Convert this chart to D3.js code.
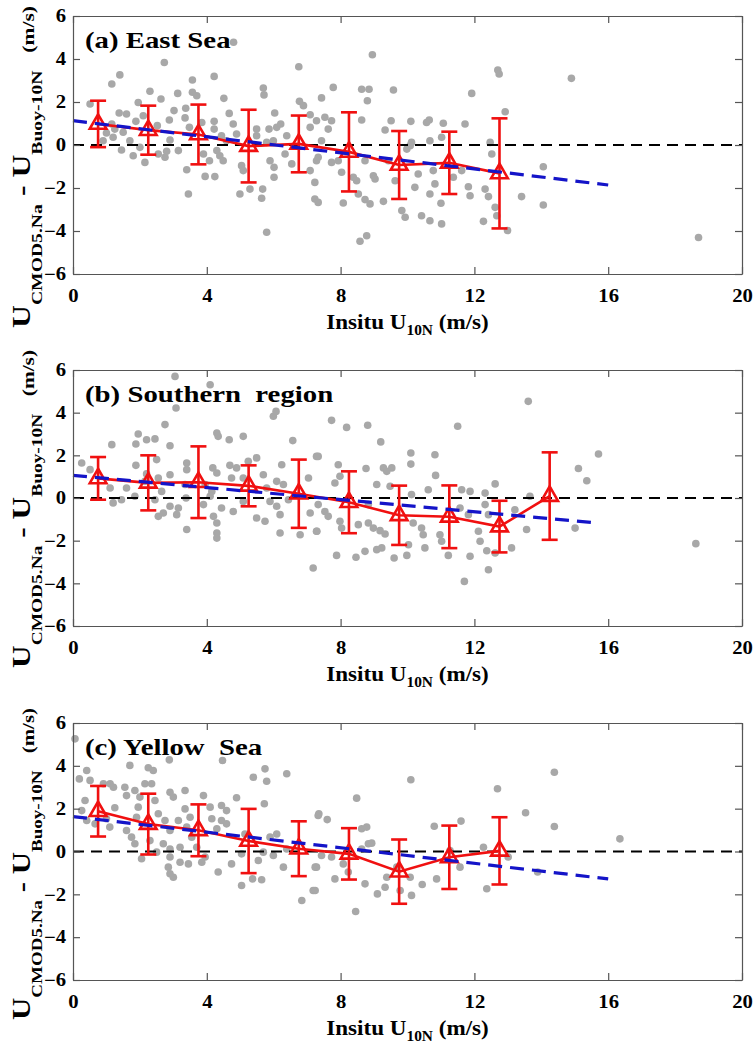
<!DOCTYPE html>
<html><head><meta charset="utf-8">
<script src="https://cdn.jsdelivr.net/npm/d3@7"></script>
<style>
body{margin:0;background:#fff;}
svg{display:block;}
text{font-family:"Liberation Serif","Times New Roman",serif;font-weight:bold;fill:#000;}
</style></head><body>
<svg id="chart" width="756" height="1051"></svg>
<script>
// ---------------- DATA ----------------
const xTicks = [0, 4, 8, 12, 16, 20];
const yTicks = [-6, -4, -2, 0, 2, 4, 6];
const panelTitles = ["(a) East Sea", "(b) Southern  region", "(c) Yellow  Sea"];

const binXA = [0.75, 2.25, 3.75, 5.25, 6.75, 8.25, 9.75, 11.25, 12.75];
const meanA = [0.98, 0.69, 0.49, -0.05, 0.05, -0.32, -0.93, -0.83, -1.32];
const stdA  = [1.08, 1.14, 1.39, 1.69, 1.32, 1.84, 1.58, 1.45, 2.56];

const binXB = [0.75, 2.25, 3.75, 5.25, 6.75, 8.25, 9.75, 11.25, 12.75, 14.25];
const meanB = [0.92, 0.71, 0.74, 0.57, 0.20, -0.20, -0.81, -0.88, -1.34, 0.09];
const stdB  = [1.00, 1.29, 1.68, 0.96, 1.60, 1.45, 1.39, 1.47, 1.21, 2.05];

const binXC = [0.75, 2.25, 3.75, 5.25, 6.75, 8.25, 9.75, 11.25, 12.75];
const meanC = [1.88, 1.28, 0.99, 0.49, 0.13, -0.11, -0.94, -0.27, 0.03];
const stdC  = [1.18, 1.42, 1.21, 1.50, 1.28, 1.20, 1.50, 1.48, 1.57];

// linear fit end points [x], [y]
const fitXA = [0, 16],   fitYA = [1.13, -1.86];
const fitXB = [0, 15.7], fitYB = [1.06, -1.17];
const fitXC = [0, 16],   fitYC = [1.63, -1.28];

// scatter (in-situ U10N, bias)
const scatterA = [
[4.8,4.78],[2.73,3.84],[1.4,3.26],[1.16,2.84],[4.22,3.19],[3.57,3.02],[6.75,3.64],[2.3,2.5],[3.13,2.4],[3.57,2.45],[3.7,2.29],[4.51,2.17],[5.69,2.65],[5.71,2.33],[6.77,2.03],[6.89,1.83],[0.51,1.91],[1.95,1.98],[2.63,2.14],[1.38,1.49],[1.6,1.44],[3.02,1.6],[3.37,1.71],[4.67,1.47],[6.03,1.49],[7.09,1.41],[1.16,0.98],[1.25,0.74],[1.5,0.59],[1.0,0.56],[1.88,1.1],[2.1,1.36],[2.88,1.16],[2.52,0.9],[2.9,0.23],[3.35,1.26],[3.48,0.82],[3.85,1.05],[4.22,1.1],[4.22,0.74],[4.79,0.98],[4.44,0.43],[4.59,0.2],[4.89,0.51],[5.49,0.74],[5.86,0.74],[6.09,0.82],[6.21,0.98],[5.49,0.43],[6.39,0.43],[5.79,0.12],[5.99,0.2],[7.09,0.82],[7.28,1.13],[1.45,-0.23],[1.8,-0.5],[2.15,-0.81],[2.0,-0.11],[2.55,-0.42],[2.75,-0.57],[2.8,-0.29],[3.15,-0.26],[3.4,-1.15],[3.45,-2.28],[3.9,-0.42],[4.08,-0.73],[4.3,-0.26],[4.39,-0.5],[4.49,-0.73],[3.95,-1.46],[4.24,-1.47],[5.04,-0.96],[5.09,-1.19],[4.99,-2.28],[5.29,-2.05],[5.67,-2.05],[5.64,-2.48],[5.79,-4.06],[5.89,-0.73],[6.01,-1.04],[6.01,-1.5],[6.34,-0.42],[6.54,-0.88],[7.09,-1.19],[7.23,-1.74],[7.23,-2.51],[7.33,-2.67],[7.28,-0.73],[1.2,0.36],[0.9,0.2],[1.7,0.2],
[8.95,4.2],[7.78,2.68],[7.43,2.19],[8.63,2.59],[8.85,2.59],[8.8,2.06],[9.58,2.56],[11.92,2.4],[12.7,3.49],[12.74,3.3],[12.92,1.55],[7.53,1.29],[7.73,1.13],[7.63,0.74],[8.63,1.16],[9.33,0.7],[9.51,1.13],[10.1,1.1],[10.57,1.05],[10.65,1.16],[11.07,1.01],[11.72,0.98],[11.02,0.36],[10.67,0.2],[10.12,0.12],[9.98,-0.19],[10.08,-0.03],[7.43,0.2],[7.33,-0.57],[7.73,-0.81],[7.93,-0.73],[8.03,-1.27],[8.38,-1.5],[8.48,-1.66],[8.98,-1.43],[9.03,-1.58],[8.53,-2.28],[8.73,-2.54],[8.88,-2.74],[9.28,-2.62],[8.08,-2.7],[9.83,-3.05],[9.93,-3.36],[10.42,-3.29],[10.67,-3.52],[11.02,-3.67],[8.78,-4.22],[8.58,-4.48],[10.22,-1.97],[10.67,-2.28],[11.0,-2.71],[10.32,-1.35],[10.82,-1.81],[11.37,-1.5],[11.82,-1.94],[11.87,-2.36],[12.32,-2.05],[12.42,-2.4],[12.62,-2.9],[12.67,-3.29],[12.27,-3.55],[12.99,-3.98],[12.47,0.12],[12.52,-0.42],[13.41,-2.4],[14.06,-1.01],[14.06,-2.79],[9.43,-0.73],[8.73,-0.73],[9.63,-1.66],[10.77,-1.19],[11.62,-1.19],[14.9,3.1],[18.7,-4.3]
];
const scatterB = [
[3.05,5.7],[4.1,5.31],[3.08,4.22],[5.99,3.83],[6.07,4.06],[2.75,3.44],[4.3,3.05],[4.34,2.89],[4.67,2.73],[5.09,2.89],[6.57,2.69],[1.95,3.0],[1.16,2.5],[1.88,2.53],[2.2,2.73],[2.45,2.77],[2.9,2.45],[0.26,1.64],[0.51,1.33],[2.5,1.8],[1.88,1.53],[3.4,1.64],[3.4,1.33],[4.18,1.41],[4.3,1.17],[4.69,1.53],[4.89,1.41],[5.24,1.72],[5.49,1.88],[6.24,1.56],[7.04,0.94],[7.28,1.95],[1.11,0.47],[1.6,0.47],[1.85,0.08],[2.2,1.13],[2.55,0.94],[2.9,1.09],[3.35,0.63],[3.95,0.63],[4.15,0.31],[4.74,0.94],[5.09,0.94],[5.69,1.09],[5.79,0.47],[6.09,0.78],[6.29,0.63],[6.44,-0.08],[1.2,-0.23],[1.45,-0.08],[2.45,-0.08],[2.55,-0.86],[2.7,-0.7],[2.9,-0.39],[3.1,-0.78],[3.15,-0.47],[3.38,0.0],[3.4,-1.48],[3.9,-0.31],[4.1,0.08],[4.2,-0.86],[4.3,-1.17],[4.3,-1.64],[4.3,-1.88],[4.44,-0.47],[4.79,-0.63],[5.09,-0.16],[5.49,-0.94],[5.74,-1.09],[5.89,-0.16],[6.19,-0.78],[6.19,-1.64],[6.79,-1.72],[7.09,-0.7],[7.28,-1.56],[7.18,-3.28],[6.09,-0.39],[2.15,0.78],[2.65,0.31],
[13.61,4.53],[7.73,3.64],[8.18,3.31],[8.81,3.41],[11.5,3.36],[9.2,2.63],[7.33,1.95],[10.1,2.11],[10.82,2.03],[10.1,1.59],[15.71,2.06],[7.93,1.56],[8.76,1.38],[9.28,1.41],[9.53,1.41],[9.38,1.25],[10.84,1.06],[15.11,1.38],[15.36,0.81],[7.83,0.7],[7.98,1.02],[9.08,0.63],[9.48,0.55],[10.62,0.39],[11.62,0.39],[11.87,0.31],[12.32,0.23],[12.62,0.66],[10.12,0.16],[7.33,-0.31],[7.53,-0.63],[7.63,-0.86],[7.98,-1.09],[8.03,-1.41],[7.29,-1.56],[8.53,-1.25],[8.83,-1.17],[8.98,-1.41],[9.18,-1.53],[9.33,-1.69],[8.83,-0.31],[10.17,-1.17],[10.42,-1.41],[10.47,-1.72],[10.52,-2.34],[10.03,-2.19],[9.98,-2.69],[9.6,-2.81],[9.23,-2.34],[9.08,-2.42],[8.73,-2.5],[8.46,-2.78],[7.88,-2.69],[10.97,-1.72],[11.02,-2.03],[11.22,-2.69],[11.7,-3.91],[11.87,-2.73],[12.12,-1.56],[12.17,-2.03],[12.37,-2.47],[12.42,-3.36],[12.62,-2.58],[13.11,-2.34],[13.21,-0.55],[13.56,-1.48],[13.66,0.08],[15.01,-1.41],[11.57,-0.47],[11.82,-0.78],[12.32,-0.31],[12.42,-0.78],[18.62,-2.14]
];
const scatterC = [
[0.06,5.26],[0.41,3.78],[1.7,4.02],[2.88,4.28],[4.47,4.25],[5.74,3.86],[5.39,3.47],[5.79,3.28],[6.39,3.63],[2.25,3.91],[2.4,3.78],[0.19,3.39],[0.51,3.32],[0.91,3.16],[1.11,3.16],[1.21,3.0],[1.55,3.0],[1.85,2.85],[2.15,3.16],[2.35,3.16],[1.6,2.61],[2.0,2.54],[2.45,2.38],[2.9,2.77],[3.35,2.85],[3.0,2.54],[3.9,2.61],[4.1,2.07],[4.44,2.15],[4.89,2.51],[5.72,2.23],[0.36,2.38],[0.26,1.91],[0.41,1.45],[0.66,1.29],[1.0,1.53],[1.25,2.04],[1.1,1.14],[1.6,0.98],[1.9,1.6],[1.95,2.07],[2.55,1.76],[2.75,1.45],[2.9,0.98],[3.15,1.45],[3.35,1.99],[3.4,1.14],[3.5,1.6],[4.15,1.53],[4.3,1.06],[4.44,1.45],[4.59,1.29],[4.59,1.91],[1.75,0.67],[1.85,0.36],[2.3,0.51],[2.7,0.36],[2.9,0.12],[3.2,0.2],[3.55,0.67],[3.7,0.2],[2.5,-0.03],[2.05,-0.34],[2.9,-0.26],[3.2,-0.5],[3.45,-0.58],[3.85,-0.5],[3.95,-0.26],[2.85,-0.73],[2.9,-1.04],[3.0,-1.2],[4.34,-0.96],[4.74,-0.58],[5.04,-0.11],[5.04,-1.59],[5.37,-1.28],[5.64,-1.32],[5.54,-0.42],[5.69,-0.03],[5.89,0.67],[5.99,-0.19],[6.29,-0.73],[6.39,0.12],[6.84,-2.29],[7.18,-1.82],[7.28,-0.73],[7.33,1.68],[6.09,0.82],[5.14,0.82],
[10.1,3.35],[8.48,2.49],[12.69,2.93],[14.39,3.7],[13.53,1.81],[14.39,1.17],[7.35,1.76],[7.6,1.49],[8.63,1.06],[8.78,1.14],[10.8,1.18],[11.6,1.42],[8.83,0.36],[8.93,0.39],[8.63,0.12],[7.43,-0.19],[7.73,-0.26],[8.08,-0.58],[8.23,-0.96],[7.24,-0.73],[7.24,-1.82],[7.83,-1.28],[8.73,-1.51],[9.1,-1.98],[9.33,-1.67],[9.38,-1.2],[10.08,-1.2],[10.12,-2.05],[9.78,-1.82],[10.44,-1.54],[10.87,-1.28],[8.45,-2.8],[11.57,-0.73],[12.27,0.2],[12.37,-1.74],[13.01,-0.26],[13.89,-0.96],[9.68,-0.73],[11.27,0.05],[16.35,0.59]
];

// ---------------- LAYOUT ----------------
const W = 756, H = 1051;
const plotLeft = 73, plotRight = 742;
const panels = [
  {top: 16,  bottom: 274, title: panelTitles[0], bx: binXA, mean: meanA, sd: stdA, fx: fitXA, fy: fitYA, pts: scatterA, labStart: 328,  labEnd: 6},
  {top: 370, bottom: 626, title: panelTitles[1], bx: binXB, mean: meanB, sd: stdB, fx: fitXB, fy: fitYB, pts: scatterB, labStart: 668,  labEnd: 350},
  {top: 723, bottom: 980, title: panelTitles[2], bx: binXC, mean: meanC, sd: stdC, fx: fitXC, fy: fitYC, pts: scatterC, labStart: 1020, labEnd: 708}
];
const axisColor = "#555";
const dotColor = "#a8a8a8";
const red = "#f01010";
const blue = "#1414c8";
const SX = 1.15; // horizontal stretch of the lettering

// pieces of the y-axis title: text, font size, baseline offset (px from left)
const yLabelPieces = [
  {t: "U", fs: 25, v: 30},
  {t: "CMOD5.Na", fs: 15.5, v: 42},
  {t: " - U", fs: 25, v: 30},
  {t: "Buoy-10N", fs: 15.5, v: 42},
  {t: "(m/s)", fs: 17, v: 34, gap: 14}
];

const svg = d3.select("#chart");
svg.append("rect").attr("width", W).attr("height", H).attr("fill", "#fff");

const x = d3.scaleLinear().domain([0, 20]).range([plotLeft, plotRight]);

panels.forEach(p => {
  const y = d3.scaleLinear().domain([-6, 6]).range([p.bottom, p.top]);
  const g = svg.append("g");

  // scatter
  g.append("g").selectAll("circle").data(p.pts).join("circle")
    .attr("cx", d => x(d[0])).attr("cy", d => y(d[1]))
    .attr("r", 3.8).attr("fill", dotColor);

  // zero line
  g.append("line")
    .attr("x1", x(0)).attr("x2", x(20)).attr("y1", y(0)).attr("y2", y(0))
    .attr("stroke", "#000").attr("stroke-width", 2).attr("stroke-dasharray", "11,7");

  // error bars
  const eb = g.append("g").attr("stroke", red).attr("stroke-width", 2.6).attr("fill", "none");
  p.bx.forEach((bx, i) => {
    const lo = y(p.mean[i] - p.sd[i]), hi = y(p.mean[i] + p.sd[i]), cx = x(bx);
    eb.append("line").attr("x1", cx).attr("x2", cx).attr("y1", lo).attr("y2", hi);
    eb.append("line").attr("x1", cx - 8).attr("x2", cx + 8).attr("y1", lo).attr("y2", lo);
    eb.append("line").attr("x1", cx - 8).attr("x2", cx + 8).attr("y1", hi).attr("y2", hi);
  });
  const line = d3.line().x(d => x(d[0])).y(d => y(d[1]));
  g.append("path").datum(p.bx.map((b, i) => [b, p.mean[i]]))
    .attr("d", line).attr("fill", "none").attr("stroke", red).attr("stroke-width", 2.6);
  g.append("g").selectAll("path").data(p.bx.map((b, i) => [b, p.mean[i]])).join("path")
    .attr("d", d3.symbol(d3.symbolTriangle, 120))
    .attr("transform", d => `translate(${x(d[0])},${y(d[1])})`)
    .attr("fill", "none").attr("stroke", red).attr("stroke-width", 2.6);

  // fit line
  g.append("path").datum(p.fx.map((v, i) => [v, p.fy[i]]))
    .attr("d", line).attr("fill", "none").attr("stroke", blue)
    .attr("stroke-width", 3.2).attr("stroke-dasharray", "14,8");

  // axes
  const ax = g.append("g").attr("transform", `translate(0,${p.bottom})`)
    .call(d3.axisBottom(x).tickValues(xTicks).tickSizeInner(-7).tickSizeOuter(0).tickPadding(15).tickFormat(d3.format("d")));
  const axT = g.append("g").attr("transform", `translate(0,${p.top})`)
    .call(d3.axisTop(x).tickValues(xTicks).tickSizeInner(-7).tickSizeOuter(0).tickFormat(""));
  const ay = g.append("g").attr("transform", `translate(${plotLeft},0)`)
    .call(d3.axisLeft(y).tickValues(yTicks).tickSizeInner(-7).tickSizeOuter(0).tickPadding(6).tickFormat(d3.format("d")));
  const ayR = g.append("g").attr("transform", `translate(${plotRight},0)`)
    .call(d3.axisRight(y).tickValues(yTicks).tickSizeInner(-7).tickSizeOuter(0).tickFormat(""));
  [ax, axT, ay, ayR].forEach(a => {
    a.select(".domain").attr("stroke", axisColor).attr("stroke-width", 1.2);
    a.selectAll(".tick line").attr("stroke", axisColor).attr("stroke-width", 1.2);
  });
  [ax, ay].forEach(a => a.selectAll(".tick text").attr("font-size", 18)
    .attr("font-family", "Liberation Serif").attr("font-weight", "bold")
    .attr("fill", "#000").attr("transform", `scale(${SX},1)`));

  // panel title
  g.append("text").attr("transform", `translate(85,${p.top + 32}) scale(1.2,1)`)
    .style("white-space", "pre").attr("font-size", 24).text(p.title);

  // x title
  const xt = g.append("text").attr("text-anchor", "middle")
    .attr("transform", `translate(${(plotLeft + plotRight) / 2},${p.bottom + 55}) scale(1.1,1)`)
    .attr("font-size", 21);
  xt.append("tspan").text("Insitu U");
  xt.append("tspan").attr("font-size", 14).attr("dy", 6).text("10N");
  xt.append("tspan").attr("dy", -6).text(" (m/s)");

  // y title: pieces laid end to end along the reading direction, then stretched to fit
  const yg = g.append("g");
  const inner = yg.append("g");
  let u = 0;
  yLabelPieces.forEach(pc => {
    u += pc.gap || 0;
    const t = inner.append("text").attr("x", u).attr("y", pc.v)
      .style("white-space", "pre").attr("font-size", pc.fs).text(pc.t);
    u += t.node().getComputedTextLength();
  });
  const k = (p.labStart - p.labEnd) / u;
  yg.attr("transform", `translate(0,${p.labStart}) rotate(-90)`);
  inner.selectAll("text").each(function() {
    const el = d3.select(this);
    const uu = +el.attr("x"), vv = +el.attr("y");
    el.attr("x", null).attr("y", null)
      .attr("transform", `translate(${uu * k},${vv}) scale(${k},1)`);
  });
});
</script></body></html>
